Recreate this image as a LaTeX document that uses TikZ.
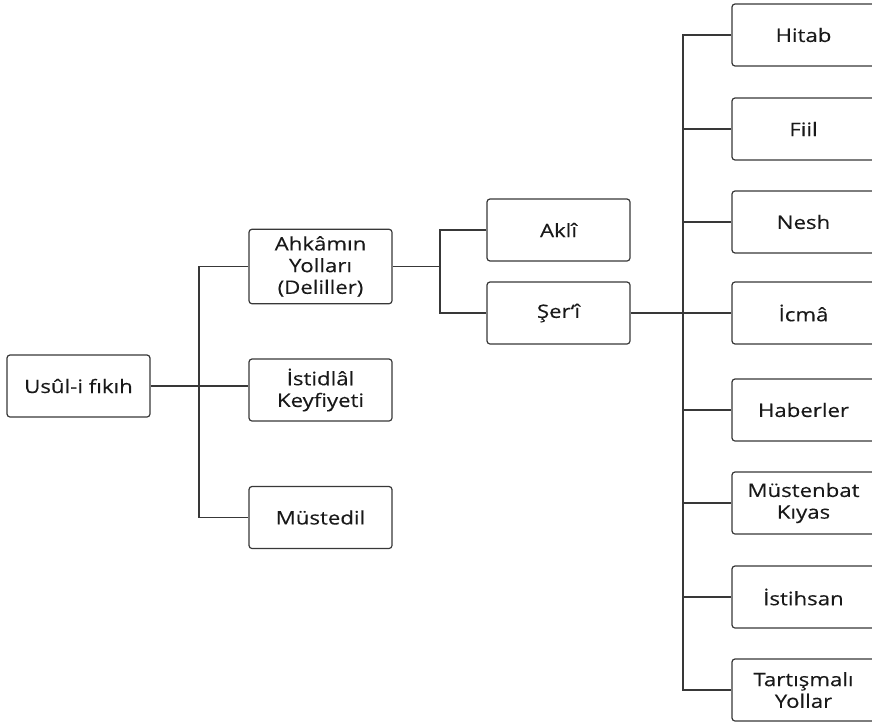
\documentclass[tikz,border=0pt]{standalone}
\usepackage{fontspec}
\setmainfont{Open Sans}[FakeStretch=1.2, FakeBold=0.3]
\definecolor{cline}{rgb}{0.22, 0.22, 0.22}
\definecolor{ctext}{rgb}{0.1, 0.1, 0.1}

\begin{document}
\begin{tikzpicture}[x=1pt, y=-1pt,
    box/.style={draw=cline, line width=1.2pt, rounded corners=3pt, align=center,
        minimum width=143pt, minimum height=62pt, inner ysep=7pt, text=ctext,
        font=\fontsize{18.5}{21.7}\selectfont},
    link/.style={draw=cline, line width=1.2pt}]

\useasboundingbox (0, 0) rectangle (872, 723);

% root and first level
\node [box] (usul) at (78.5, 386) {Usûl-i fıkıh};
\node [box] (ahkam) at (320.5, 266.5) {Ahkâmın\\Yolları\\(Deliller)};
\node [box] (istidlal) at (320.5, 390) {İstidlâl\\Keyfiyeti};
\node [box] (mustedil) at (320.5, 517.5) {Müstedil};

% second level
\node [box] (akli) at (558.5, 230) {Aklî};
\node [box] (seri) at (558.5, 313) {Şer‘î};

% third level
\foreach \y/\name/\txt in {35/hitab/Hitab, 129/fiil/Fiil, 222/nesh/Nesh,
    313/icma/İcmâ, 410/haber/Haberler, 503/kiyas/Müstenbat\\Kıyas,
    597/istihsan/İstihsan, 690/tartis/Tartışmalı\\Yollar} {
    \node [box] (\name) at (803.5, \y) {\txt};
}

% joints
\coordinate (j1) at (199, 386);
\coordinate (j2) at (440, 266.5);
\coordinate (j3) at (683, 313);

% connectors
\draw [link] (usul.east) -- (usul.east -| istidlal.west);
\draw [link] (ahkam.west) -| (j1) |- (mustedil.west);

\draw [link] (ahkam.east) -- (j2);
\draw [link] (akli.west) -| (j2) |- (seri.west);

\draw [link] (seri.east) -- (icma.west);
\draw [link] (hitab.west) -| (j3) |- (tartis.west);
\foreach \name in {fiil, nesh, haber, kiyas, istihsan} {
    \draw [link] (j3 |- \name.west) -- (\name.west);
}

\end{tikzpicture}
\end{document}
